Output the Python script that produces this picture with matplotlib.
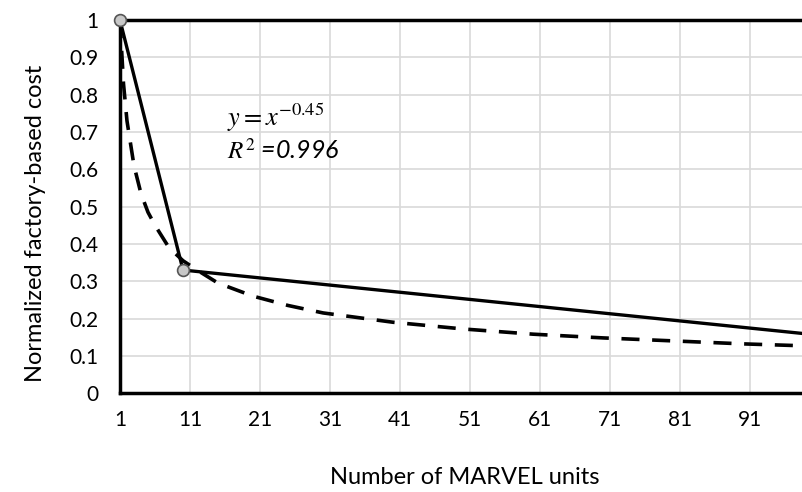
import matplotlib
matplotlib.use('Agg')
import matplotlib.pyplot as plt

units = [1, 10, 100]
cost = [1.0, 0.33, 0.157]

fit_x = [1, 1.5, 2, 3, 4, 5, 6, 8, 10, 12, 15, 20, 25, 30, 40, 50, 60, 70, 80, 90, 100]
fit_y = [1.0, 0.83, 0.73, 0.61, 0.535, 0.485, 0.45, 0.39, 0.355, 0.33, 0.295,
         0.26, 0.235, 0.215, 0.19, 0.172, 0.158, 0.148, 0.14, 0.132, 0.126]

xticks = [1, 11, 21, 31, 41, 51, 61, 71, 81, 91]
yticks = [0, 0.1, 0.2, 0.3, 0.4, 0.5, 0.6, 0.7, 0.8, 0.9, 1]
ylabels = ['0', '0.1', '0.2', '0.3', '0.4', '0.5', '0.6', '0.7', '0.8', '0.9', '1']

plt.rcParams['font.family'] = ['Lato', 'DejaVu Sans']
plt.rcParams['mathtext.fontset'] = 'stix'

fig = plt.figure(figsize=(8.02, 4.92), dpi=100)
ax = fig.add_axes([0.1496, 0.201, 0.8504, 0.758])

ax.plot(fit_x, fit_y, color='black', lw=2.6, ls=(0, (5, 3.5)), zorder=3)
ax.plot(units, cost, color='black', lw=2.4, marker='o', ms=8.5,
        mfc='#c8c8c8', mec='#555555', mew=1.2, zorder=4, clip_on=False)

ax.set_xlim(1, 98.4)
ax.set_ylim(0, 1)
ax.set_xticks(xticks)
ax.set_yticks(yticks)
ax.set_yticklabels(ylabels)
ax.tick_params(length=0, labelsize=15)
ax.tick_params(axis='x', pad=12)
ax.tick_params(axis='y', pad=15.5)
ax.grid(color='#d9d9d9', lw=1.2)
ax.set_axisbelow(True)

for s in ['left', 'bottom', 'top']:
    ax.spines[s].set_linewidth(2.5)
    ax.spines[s].set_color('black')
ax.spines['right'].set_visible(False)

# axis titles placed like the Excel chart
fig.text(465 / 802, 8 / 492, 'Number of MARVEL units', fontsize=17,
         ha='center', va='baseline')
fig.text(42 / 802, 1 - 223 / 492, 'Normalized factory-based cost', fontsize=17,
         rotation=90, rotation_mode='anchor', ha='center', va='baseline')

ax.text(16.3, 0.737, r'$y = x^{-0.45}$', fontsize=19, va='center')
ax.text(16.3, 0.651, r'$R^2$ =0.996', fontsize=18, fontstyle='italic', va='center')

plt.savefig('out.png', dpi=100)
